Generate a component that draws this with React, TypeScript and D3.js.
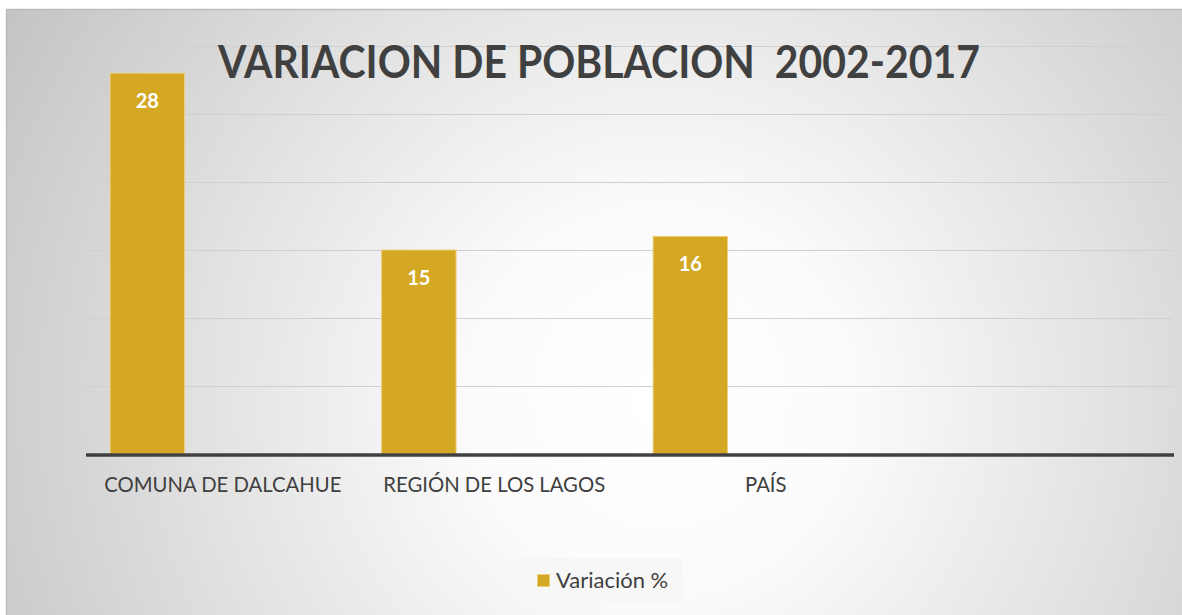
import React, { useEffect, useRef } from 'react';
import * as d3 from 'd3';

const categories = ['COMUNA DE DALCAHUE', 'REGIÓN DE LOS LAGOS', 'PAÍS', ''];
const values = [28, 15, 16, null];
const seriesName = 'Variación %';
const yTicks = [0, 5, 10, 15, 20, 25, 30];
const title = 'VARIACION DE POBLACION  2002-2017';

const App = () => {
  const ref = useRef<SVGSVGElement>(null);

  useEffect(() => {
    const W = 1182, H = 615;
    const plot = { left: 87, right: 1173, top: 46, bottom: 454 };

    const svg = d3.select(ref.current).attr('width', W).attr('height', H);
    svg.selectAll('*').remove();

    // background gradient like the Excel chart area
    const defs = svg.append('defs');
    const grad = defs.append('radialGradient')
      .attr('id', 'bg')
      .attr('gradientUnits', 'userSpaceOnUse')
      .attr('cx', 660).attr('cy', 400).attr('r', 760);
    grad.append('stop').attr('offset', '0%').attr('stop-color', '#ffffff');
    grad.append('stop').attr('offset', '25%').attr('stop-color', '#fbfbfb');
    grad.append('stop').attr('offset', '60%').attr('stop-color', '#e2e2e2');
    grad.append('stop').attr('offset', '100%').attr('stop-color', '#c4c4c4');

    svg.append('rect')
      .attr('x', 6).attr('y', 9).attr('width', W - 6).attr('height', H - 9)
      .attr('fill', 'url(#bg)');
    svg.append('path')
      .attr('d', `M6.5,${H} V9.5 H${W}`)
      .attr('fill', 'none').attr('stroke', '#bdbdbd').attr('stroke-width', 1.5);

    const x = d3.scaleBand().domain(categories).range([plot.left, plot.right]);
    const slot = d3.scaleBand().domain(['0', '1', '2'])
      .range([0, x.bandwidth()]).paddingInner(0).paddingOuter(0.3);
    const y = d3.scaleLinear().domain([0, 30]).range([plot.bottom, plot.top]);

    // gridlines
    svg.append('g').selectAll('line')
      .data(yTicks.filter(d => d > 0))
      .join('line')
      .attr('x1', plot.left).attr('x2', plot.right)
      .attr('y1', d => Math.round(y(d)) + 0.5).attr('y2', d => Math.round(y(d)) + 0.5)
      .attr('stroke', '#cfcfcf').attr('stroke-width', 1);

    const data = categories.map((c, i) => ({ c, v: values[i] })).filter(d => d.v != null);

    // bars
    svg.append('g').selectAll('rect')
      .data(data)
      .join('rect')
      .attr('x', d => (x(d.c) as number) + (slot('0') as number) + 0.5)
      .attr('width', slot.bandwidth() - 1)
      .attr('y', d => y(d.v as number))
      .attr('height', d => y(0) - y(d.v as number))
      .attr('fill', '#d4a823')
      .attr('stroke', '#ebcf7e').attr('stroke-width', 1);

    // value labels
    svg.append('g').selectAll('text')
      .data(data)
      .join('text')
      .attr('x', d => (x(d.c) as number) + (slot('0') as number) + slot.bandwidth() / 2)
      .attr('y', d => y(d.v as number) + 35)
      .attr('text-anchor', 'middle')
      .attr('fill', '#ffffff')
      .attr('font-family', 'Lato, sans-serif')
      .attr('font-weight', 'bold')
      .attr('font-size', 20)
      .text(d => d.v as number);

    // baseline
    svg.append('line')
      .attr('x1', plot.left - 1).attr('x2', plot.right + 1)
      .attr('y1', plot.bottom + 1).attr('y2', plot.bottom + 1)
      .attr('stroke', '#404040').attr('stroke-width', 3.5);

    // category axis
    const xAxis = svg.append('g')
      .attr('transform', `translate(0, ${plot.bottom + 2})`)
      .call(d3.axisBottom(x).tickSize(0).tickPadding(22));
    xAxis.select('.domain').remove();
    xAxis.selectAll('text')
      .attr('fill', '#404040')
      .attr('font-family', 'Lato, sans-serif')
      .attr('font-size', 20.3);

    // title
    svg.append('text')
      .attr('x', 599).attr('y', 78)
      .attr('text-anchor', 'middle')
      .attr('fill', '#404040')
      .attr('font-family', 'Lato, sans-serif')
      .attr('font-weight', 'bold')
      .attr('font-size', 46)
      .attr('textLength', 762)
      .attr('lengthAdjust', 'spacingAndGlyphs')
      .style('white-space', 'pre')
      .text(title);

    // legend
    const lg = svg.append('g');
    lg.append('rect')
      .attr('x', 514).attr('y', 558).attr('width', 169).attr('height', 45)
      .attr('fill', '#f7f7f7');
    lg.append('rect')
      .attr('x', 537.5).attr('y', 574.5).attr('width', 12).attr('height', 12)
      .attr('fill', '#d4a823').attr('stroke', '#ebcf7e');
    lg.append('text')
      .attr('x', 556).attr('y', 588)
      .attr('fill', '#404040')
      .attr('font-family', 'Lato, sans-serif')
      .attr('font-size', 22)
      .text(seriesName);
  }, []);

  return (
    <svg ref={ref} style={{ position: 'absolute', left: 0, top: 0, background: '#ffffff' }}></svg>
  );
};

export default App;
